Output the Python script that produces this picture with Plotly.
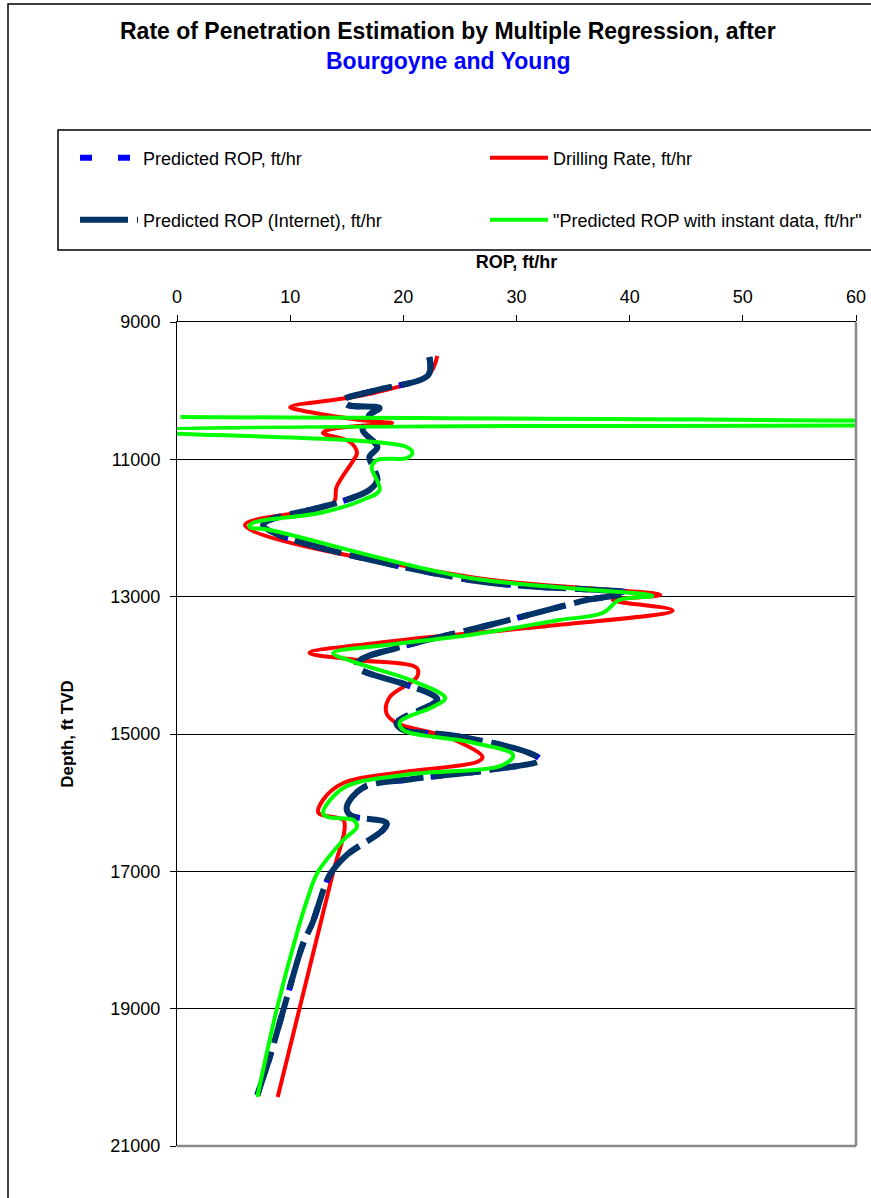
import plotly.graph_objects as go

# ROP vs depth
drill_depth = [9495, 9772, 10020, 10107, 10238, 10311, 10442, 10471, 10500, 10573, 10617,
               10747, 10908, 11010, 11403, 11636, 11956, 12714, 12976, 13050, 13200, 13410,
               13631, 13821, 13922, 14039, 14170, 14461, 14694, 14840, 15044, 15335, 15408,
               15553, 15714, 15961, 16151, 16253, 16398, 17010, 20286]
drill_rop = [23.0, 22.2, 17.7, 15.0, 10.0, 11.7, 17.0, 19.0, 17.0, 13.3, 12.9,
             15.3, 15.9, 15.6, 14.1, 13.8, 6.0, 25.9, 42.7, 38.5, 43.8, 33.8,
             20.0, 11.7, 15.9, 21.2, 21.2, 18.8, 18.5, 19.4, 23.9, 27.0, 26.5,
             20.0, 14.7, 12.9, 12.5, 14.7, 14.8, 13.8, 8.9]

pred_depth = [9510, 9772, 9990, 10136, 10209, 10252, 10354, 10456, 10573, 10820, 10966,
              11111, 11301, 11447, 11636, 11709, 11956, 12757, 12947, 13048, 13150, 13413,
              13748, 13922, 14024, 14286, 14432, 14505, 14840, 14942, 15015, 15262, 15378,
              15524, 15655, 15786, 16063, 16180, 16296, 16398, 16762, 17053, 17738, 18073,
              18845, 19704, 20257]
pred_rop = [22.3, 22.2, 17.7, 14.7, 15.1, 17.9, 17.0, 16.8, 16.4, 17.7, 17.0,
            17.3, 17.7, 17.0, 14.1, 12.4, 7.6, 25.9, 39.7, 36.2, 33.8, 27.6,
            19.4, 16.2, 15.9, 20.3, 22.6, 23.0, 19.4, 20.0, 24.1, 30.9, 32.1,
            27.6, 20.8, 16.4, 15.0, 15.3, 18.5, 18.2, 15.0, 13.5, 12.0, 11.1,
            9.7, 8.2, 7.1]

internet_depth = list(pred_depth)
internet_rop = list(pred_rop)

instant_depth = [10384, 10493, 10590, 10820, 10908, 10981, 11010, 11111, 11447, 11592, 11782,
                 11927, 11985, 12029, 12728, 12990, 13048, 13238, 13340, 13558, 13704, 13821,
                 13966, 14213, 14476, 14607, 14825, 14942, 15117, 15306, 15451, 15597, 15786,
                 16151, 16209, 16253, 16354, 16544, 17024, 17417, 17898, 19019, 20286]
instant_rop = [0.3, 100.0, -3.0, 20.3, 20.8, 20.3, 17.7, 17.2, 17.9, 16.4, 12.6,
               6.7, 6.4, 8.2, 25.9, 42.0, 39.1, 37.6, 33.8, 25.9, 18.5, 13.8,
               15.9, 20.6, 23.7, 22.6, 19.7, 20.0, 25.9, 29.7, 28.8, 20.0, 14.7,
               12.9, 13.3, 15.6, 15.9, 14.7, 12.4, 11.5, 10.6, 8.8, 7.1]

W, H = 871, 1198
L, R, T, B = 177, 856, 322, 1146


def px_x(p):
    return (p - L) / (R - L)


def px_y(p):
    return (B - p) / (B - T)


FONT = "Liberation Sans, Arial, sans-serif"

fig = go.Figure()

fig.add_trace(go.Scatter(
    x=drill_rop, y=drill_depth, name="Drilling Rate, ft/hr", mode="lines",
    line=dict(color="#FF0000", width=4, shape="spline"), legend="legend2"))
fig.add_trace(go.Scatter(
    x=pred_rop, y=pred_depth, name="Predicted ROP, ft/hr", mode="lines",
    line=dict(color="#0000FF", width=6, dash="12px,26px", shape="spline"), legend="legend"))
fig.add_trace(go.Scatter(
    x=internet_rop, y=internet_depth, name="Predicted ROP (Internet), ft/hr", mode="lines",
    line=dict(color="#003366", width=6, dash="48px,9px", shape="spline"), legend="legend3"))
fig.add_trace(go.Scatter(
    x=instant_rop, y=instant_depth, name="\"Predicted ROP with instant data, ft/hr\"",
    mode="lines", line=dict(color="#00FF00", width=4, shape="spline"), legend="legend4"))


def legend_at(xp, yp):
    return dict(x=px_x(xp), y=px_y(yp), xanchor="left", yanchor="middle",
                font=dict(family=FONT, size=18, color="black"),
                bgcolor="rgba(0,0,0,0)", borderwidth=0, itemwidth=58)


fig.update_layout(
    width=W, height=H,
    margin=dict(l=L, r=W - R, t=T, b=H - B, autoexpand=False),
    paper_bgcolor="white", plot_bgcolor="white",
    font=dict(family=FONT, size=18, color="black"),
    showlegend=True,
    legend=legend_at(75, 158),
    legend2=legend_at(485, 158),
    legend3=legend_at(75, 220),
    legend4=legend_at(485, 220),
    xaxis=dict(
        side="top", range=[0, 60], dtick=10, tick0=0,
        showgrid=False, zeroline=False,
        showline=True, linecolor="black", linewidth=1,
        ticks="outside", ticklen=6, tickcolor="black", ticklabelstandoff=5,
        tickfont=dict(family=FONT, size=18, color="black"),
        title=dict(text="<b>ROP, ft/hr</b>", font=dict(family=FONT, size=18, color="black"),
                   standoff=13),
    ),
    yaxis=dict(
        range=[21000, 9000], dtick=2000, tick0=9000, tickformat="d",
        showgrid=True, gridcolor="black", gridwidth=1, zeroline=False,
        showline=True, linecolor="black", linewidth=1,
        ticks="outside", ticklen=6, tickcolor="black", ticklabelstandoff=6,
        tickfont=dict(family=FONT, size=18, color="black"),
        title=dict(text="<b>Depth, ft TVD</b>", font=dict(family=FONT, size=17, color="black"),
                   standoff=32),
    ),
    annotations=[
        dict(text="<b>Rate of Penetration Estimation by Multiple Regression, after</b>",
             xref="paper", yref="paper", x=px_x(448), y=px_y(31),
             xanchor="center", yanchor="middle", showarrow=False,
             font=dict(family=FONT, size=23, color="black")),
        dict(text="<b>Bourgoyne and Young</b>",
             xref="paper", yref="paper", x=px_x(448), y=px_y(61),
             xanchor="center", yanchor="middle", showarrow=False,
             font=dict(family=FONT, size=23, color="#0000FF")),
    ],
    shapes=[
        # outer chart frame (runs off the right and bottom edge)
        dict(type="rect", xref="paper", yref="paper",
             x0=px_x(8), x1=px_x(900), y0=px_y(1230), y1=px_y(4),
             line=dict(color="black", width=1.5), layer="below"),
        # legend box
        dict(type="rect", xref="paper", yref="paper",
             x0=px_x(58), x1=px_x(900), y0=px_y(250), y1=px_y(130),
             line=dict(color="black", width=1.5), layer="below"),
        # grey plot-area border on the right and bottom
        dict(type="line", xref="paper", yref="paper", x0=1, x1=1, y0=0, y1=1,
             line=dict(color="#888888", width=2.5), layer="above"),
        dict(type="line", xref="paper", yref="paper", x0=0, x1=1, y0=0, y1=0,
             line=dict(color="#888888", width=2.5), layer="above"),
    ],
)

# page body has an 8px default margin; drop it so the figure sits at the window origin
fig.write_html("out.html", config={"displayModeBar": False},
               post_script="document.body.style.margin = '0';")
